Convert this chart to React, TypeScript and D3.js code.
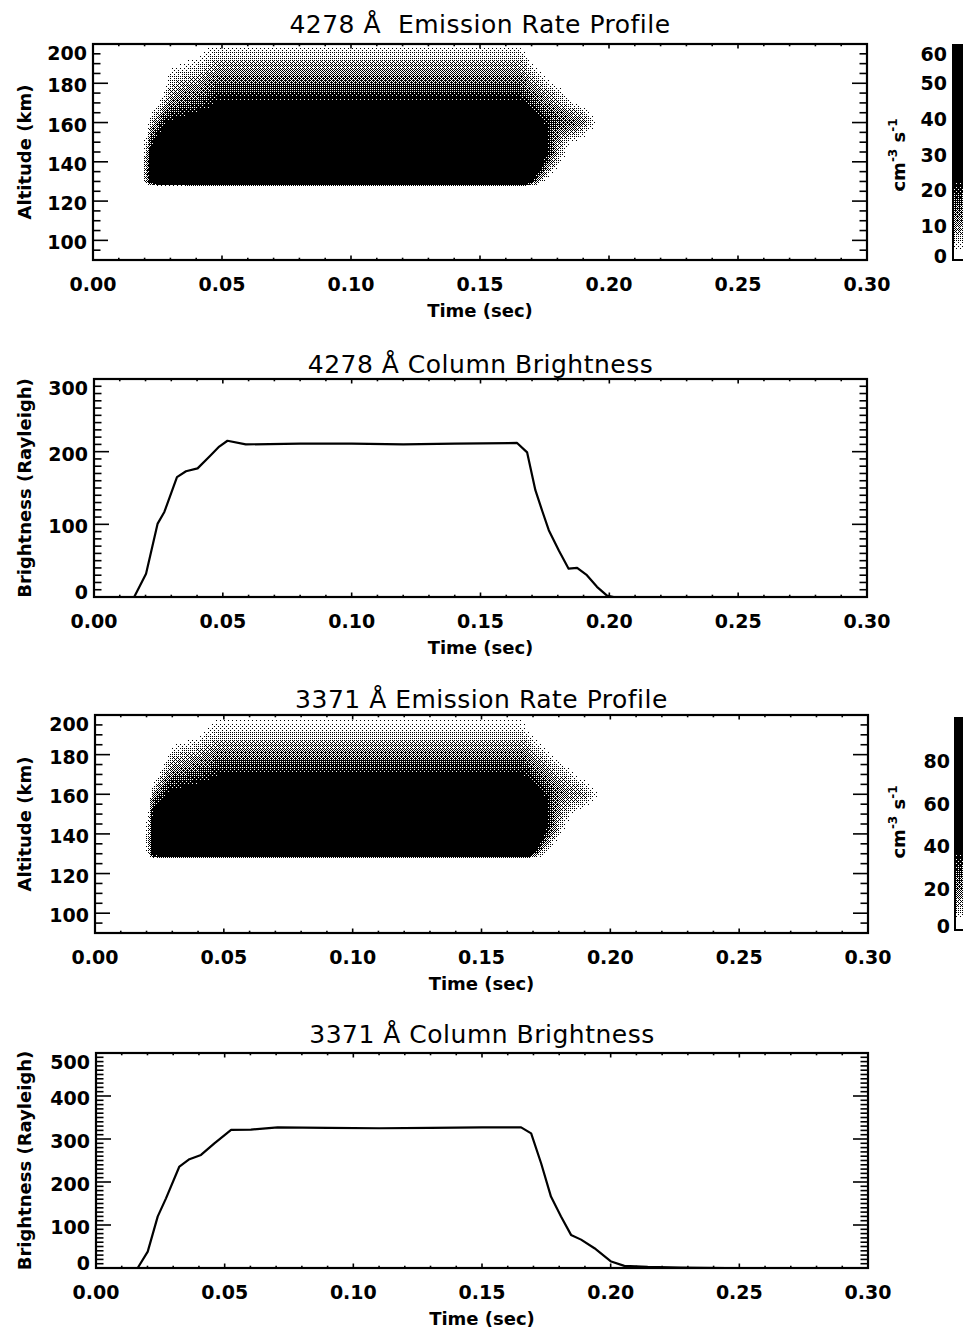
import React, { useEffect, useRef } from "react";
import * as d3 from "d3";

const WIDTH = 963;
const HEIGHT = 1333;
const FONT = "'DejaVu Sans', sans-serif";

// x axis (time, sec)
const timeTicks = [0, 0.05, 0.1, 0.15, 0.2, 0.25, 0.3];
const timeLabels = ["0.00", "0.05", "0.10", "0.15", "0.20", "0.25", "0.30"];

// emission rate grid: columns are times (sec), rows are altitudes (km)
const gridTime = [0.017, 0.0195, 0.021, 0.0225, 0.025, 0.0275, 0.03, 0.035, 0.04, 0.045, 0.048, 0.165, 0.1675, 0.17, 0.1725, 0.175, 0.1775, 0.18, 0.1825, 0.185, 0.1875, 0.19, 0.1925, 0.195, 0.1975, 0.2];
const gridAlt = [200, 195, 190, 185, 180, 175, 170, 165, 160, 155, 150, 145, 140, 135, 130, 127.5];

// 4278 A emission rate (cm^-3 s^-1)
const rate4278 = [
  [0,0,0,0,0,0,0,0,1,3,3,3,2,0,0,0,0,0,0,0,0,0,0,0,0,0],
  [0,0,0,0,0,0,0,1,2,4,5,5,3,1,0,0,0,0,0,0,0,0,0,0,0,0],
  [0,0,0,0,0,0,2,3,4,6,8,8,6,3,1,0,0,0,0,0,0,0,0,0,0,0],
  [0,0,0,0,0,0,4,5,6,9,11,11,9,6,4,2,1,0,0,0,0,0,0,0,0,0],
  [0,0,0,0,0,1,6,8,9,12,14,14,12,9,7,5,3,2,1,0,0,0,0,0,0,0],
  [0,0,0,0,0,3,8,11,12,15,18,18,16,13,11,9,7,5,3,1,0,0,0,0,0,0],
  [0,0,0,1,2,6,11,14,16,19,23,23,21,17,14,12,10,8,6,4,2,1,0,0,0,0],
  [0,0,0,3,6,12,16,19,21,24,28,28,27,23,19,16,14,12,11,9,8,6,3,1,0,0],
  [0,0,1,6,11,19,23,25,27,30,33,33,33,30,26,21,17,15,14,13,12,10,6,3,0,0],
  [0,0,3,11,18,26,29,31,33,36,39,39,39,35,29,23,16,12,10,8,7,5,2,1,0,0],
  [0,3,5,17,25,32,35,38,40,42,45,45,45,40,32,24,16,10,6,3,2,1,0,0,0,0],
  [0,3,8,24,32,39,42,44,46,48,51,51,51,44,34,24,15,8,4,1,0,0,0,0,0,0],
  [0,4,10,30,38,45,48,50,52,54,57,57,56,46,32,20,11,5,2,0,0,0,0,0,0,0],
  [0,4,11,33,42,48,51,53,55,57,59,59,57,40,22,10,4,1,0,0,0,0,0,0,0,0],
  [0,4,10,30,38,44,46,48,50,52,54,54,50,20,8,2,0,0,0,0,0,0,0,0,0,0],
  [0,0,0,0,0,0,0,0,0,0,0,0,0,0,0,0,0,0,0,0,0,0,0,0,0,0],
];

// 3371 A emission rate (cm^-3 s^-1)
const rate3371 = [
  [0,0,0,0,0,0,0,0,0,3,4,4,2,0,0,0,0,0,0,0,0,0,0,0,0,0],
  [0,0,0,0,0,0,0,0,1,5,6,6,4,1,0,0,0,0,0,0,0,0,0,0,0,0],
  [0,0,0,0,0,0,1,2,4,8,9,9,7,4,2,1,0,0,0,0,0,0,0,0,0,0],
  [0,0,0,0,0,0,4,6,8,12,14,14,12,8,5,3,1,0,0,0,0,0,0,0,0,0],
  [0,0,0,0,0,2,9,12,14,17,20,20,18,13,10,7,4,2,1,0,0,0,0,0,0,0],
  [0,0,0,0,1,7,14,17,20,23,27,27,25,20,16,13,10,7,4,2,0,0,0,0,0,0],
  [0,0,0,1,5,14,21,24,27,31,35,35,33,27,22,18,15,12,9,6,3,1,0,0,0,0],
  [0,0,0,5,13,24,30,33,36,40,43,43,42,36,30,25,20,16,14,12,10,7,4,2,0,0],
  [0,0,0,14,24,33,39,42,45,49,52,52,51,47,39,32,25,20,17,16,15,13,9,5,1,0],
  [0,0,3,26,37,44,48,51,54,58,61,61,60,55,45,36,25,17,13,11,9,7,4,2,0,0],
  [0,3,6,37,46,53,57,61,64,68,71,71,70,63,50,38,25,15,9,5,3,1,0,0,0,0],
  [0,5,10,44,54,62,66,70,73,77,80,80,79,69,52,37,23,12,6,2,0,0,0,0,0,0],
  [0,5,12,50,61,70,74,78,81,85,88,88,86,70,48,30,16,7,2,0,0,0,0,0,0,0],
  [0,5,12,54,66,75,79,83,86,89,92,92,88,60,34,15,6,1,0,0,0,0,0,0,0,0],
  [0,5,10,48,60,68,72,75,78,81,83,83,78,30,12,3,0,0,0,0,0,0,0,0,0,0],
  [0,0,0,0,0,0,0,0,0,0,0,0,0,0,0,0,0,0,0,0,0,0,0,0,0,0],
];

// column brightness (Rayleigh)
const brightTime4278 = [0, 0.0156, 0.0202, 0.0247, 0.0273, 0.0322, 0.0357, 0.0402, 0.0453, 0.0486, 0.0518, 0.0589, 0.08, 0.1, 0.12, 0.14, 0.1642, 0.1681, 0.1713, 0.1739, 0.1765, 0.1804, 0.1842, 0.1875, 0.1913, 0.1952, 0.1991, 0.2017, 0.25, 0.3];
const bright4278 = [0, 0, 32, 101, 117, 165, 173, 177, 195, 207, 215, 210, 211, 211, 210, 211, 212, 199, 147, 119, 92, 64, 39, 40, 30, 14, 2, 0, 0, 0];
const brightTime3371 = [0, 0.0162, 0.0201, 0.024, 0.0272, 0.0324, 0.0363, 0.0408, 0.046, 0.0525, 0.0602, 0.0706, 0.09, 0.11, 0.13, 0.15, 0.1652, 0.1691, 0.173, 0.1768, 0.1807, 0.1846, 0.1885, 0.1937, 0.2002, 0.2053, 0.2144, 0.227, 0.245, 0.3];
const bright3371 = [0, 0, 38, 120, 162, 236, 253, 263, 290, 321, 322, 327, 326, 325, 326, 327, 327, 313, 243, 166, 120, 77, 66, 46, 15, 5, 2.5, 1, 0, 0];

const altTicks = [100, 120, 140, 160, 180, 200];
const bright4278Ticks = [0, 100, 200, 300];
const bright3371Ticks = [0, 100, 200, 300, 400, 500];
const cb4278Ticks = [0, 10, 20, 30, 40, 50, 60];
const cb3371Ticks = [0, 20, 40, 60, 80];

const BAYER = [0, 8, 2, 10, 12, 4, 14, 6, 3, 11, 1, 9, 15, 7, 13, 5];

function sampleGrid(grid: number[][], t: number, a: number) {
  const n = gridTime.length;
  if (t <= gridTime[0] || t >= gridTime[n - 1]) return 0;
  if (a > gridAlt[0] || a <= gridAlt[gridAlt.length - 1]) return 0;
  const i = Math.min(d3.bisectRight(gridTime, t) - 1, n - 2);
  const ft = (t - gridTime[i]) / (gridTime[i + 1] - gridTime[i]);
  let j = 0;
  while (j < gridAlt.length - 2 && gridAlt[j + 1] >= a) j++;
  const fa = (gridAlt[j] - a) / (gridAlt[j] - gridAlt[j + 1]);
  const top = grid[j][i] * (1 - ft) + grid[j][i + 1] * ft;
  const bot = grid[j + 1][i] * (1 - ft) + grid[j + 1][i + 1] * ft;
  return top * (1 - fa) + bot * fa;
}

// ordered dither, black dots on transparent
function ditherURL(w: number, h: number, ox: number, oy: number, shade: (i: number, j: number) => number) {
  const canvas = document.createElement("canvas");
  canvas.width = w;
  canvas.height = h;
  const ctx = canvas.getContext("2d")!;
  const img = ctx.createImageData(w, h);
  for (let j = 0; j < h; j++) {
    for (let i = 0; i < w; i++) {
      const d = shade(i, j);
      const on = d > (BAYER[((oy + j) & 3) * 4 + ((ox + i) & 3)] + 0.5) / 16;
      const k = (j * w + i) * 4;
      img.data[k] = img.data[k + 1] = img.data[k + 2] = 0;
      img.data[k + 3] = on ? 255 : 0;
    }
  }
  ctx.putImageData(img, 0, 0);
  return canvas.toDataURL();
}

type Box = { left: number; right: number; top: number; bottom: number };

function drawAxes(g: any, box: Box, x: any, y: any, yMajor: number[], yMinor: number[], yLabelVals: number[]) {
  const yLen = 15, yMin = 7.5, xLen = 4.5, xMin = 2.3;
  const ticks = g.append("g").attr("stroke", "#000").attr("stroke-width", 1.6);
  d3.range(0, 0.3001, 0.01).forEach((t) => {
    const major = timeTicks.some((m) => Math.abs(m - t) < 1e-6);
    const l = major ? xLen : xMin;
    ticks.append("line").attr("x1", x(t)).attr("x2", x(t)).attr("y1", box.bottom).attr("y2", box.bottom - l);
    ticks.append("line").attr("x1", x(t)).attr("x2", x(t)).attr("y1", box.top).attr("y2", box.top + l);
  });
  yMinor.forEach((v) => {
    const major = yMajor.includes(v);
    const l = major ? yLen : yMin;
    ticks.append("line").attr("x1", box.left).attr("x2", box.left + l).attr("y1", y(v)).attr("y2", y(v));
    ticks.append("line").attr("x1", box.right).attr("x2", box.right - l).attr("y1", y(v)).attr("y2", y(v));
  });
  g.append("rect")
    .attr("x", box.left).attr("y", box.top)
    .attr("width", box.right - box.left).attr("height", box.bottom - box.top)
    .attr("fill", "none").attr("stroke", "#000").attr("stroke-width", 2.2);

  g.append("g").selectAll("text").data(timeTicks).join("text")
    .attr("x", (d: number) => x(d)).attr("y", box.bottom + 24)
    .attr("text-anchor", "middle").attr("dominant-baseline", "central")
    .attr("font-size", 19).attr("font-weight", "bold")
    .text((d: number, i: number) => timeLabels[i]);

  // IDL keeps the end labels inside the axis range
  g.append("g").selectAll("text").data(yLabelVals).join("text")
    .attr("x", box.left - 6)
    .attr("y", (d: number) => Math.max(box.top + 9, Math.min(box.bottom - 5, y(d) + 2)))
    .attr("text-anchor", "end").attr("dominant-baseline", "central")
    .attr("font-size", 19).attr("font-weight", "bold")
    .text((d: number) => String(d));

  g.append("text")
    .attr("x", (box.left + box.right) / 2).attr("y", box.bottom + 50)
    .attr("text-anchor", "middle").attr("dominant-baseline", "central")
    .attr("font-size", 18).attr("font-weight", "bold")
    .text("Time (sec)");
}

const App = () => {
  const ref = useRef<SVGSVGElement>(null);

  useEffect(() => {
    const svg = d3.select(ref.current);
    svg.selectAll("*").remove();
    svg.style("font-family", FONT);

    const emissionPanels = [
      { box: { left: 93, right: 867, top: 44, bottom: 260 }, grid: rate4278, vmax: 60, title: "4278 Å  Emission Rate Profile", titleY: 33,
        cb: { x: 953, top: 45, bottom: 260, max: 60, ticks: cb4278Ticks, labelX: 947, unitY: 155 } },
      { box: { left: 95, right: 868, top: 715, bottom: 933 }, grid: rate3371, vmax: 99, title: "3371 Å Emission Rate Profile", titleY: 708,
        cb: { x: 955, top: 718, bottom: 930, max: 99, ticks: cb3371Ticks, labelX: 950, unitY: 822 } },
    ];

    emissionPanels.forEach((p) => {
      const { box } = p;
      const g = svg.append("g");
      const x = d3.scaleLinear().domain([0, 0.3]).range([box.left, box.right]);
      const y = d3.scaleLinear().domain([90, 200]).range([box.bottom, box.top]);
      const shade = d3.scalePow().exponent(0.6).domain([0.04 * p.vmax, 0.37 * p.vmax]).range([0, 1]).clamp(true);
      const w = box.right - box.left, h = box.bottom - box.top;
      const url = ditherURL(w, h, box.left, box.top, (i, j) =>
        shade(sampleGrid(p.grid, x.invert(box.left + i + 0.5), y.invert(box.top + j + 0.5)))
      );
      g.append("image").attr("href", url).attr("x", box.left).attr("y", box.top)
        .attr("width", w).attr("height", h).style("image-rendering", "pixelated");

      drawAxes(g, box, x, y, altTicks, d3.range(90, 201, 5), altTicks);

      g.append("text").attr("x", (box.left + box.right) / 2).attr("y", p.titleY)
        .attr("text-anchor", "middle").attr("font-size", 25).attr("letter-spacing", 0.5)
        .style("white-space", "pre").text(p.title);

      g.append("text")
        .attr("transform", `translate(24,${(box.top + box.bottom) / 2}) rotate(-90)`)
        .attr("text-anchor", "middle").attr("dominant-baseline", "central")
        .attr("font-size", 18).attr("font-weight", "bold")
        .text("Altitude (km)");

      // colour bar
      const cb = p.cb;
      const cy = d3.scaleLinear().domain([0, cb.max]).range([cb.bottom, cb.top]);
      const cbw = WIDTH - cb.x, cbh = cb.bottom - cb.top;
      const cbUrl = ditherURL(cbw, cbh, cb.x, cb.top, (i, j) => shade(cy.invert(cb.top + j + 0.5)));
      g.append("image").attr("href", cbUrl).attr("x", cb.x).attr("y", cb.top)
        .attr("width", cbw).attr("height", cbh).style("image-rendering", "pixelated");
      g.append("rect").attr("x", cb.x).attr("y", cb.top).attr("width", 40).attr("height", cbh)
        .attr("fill", "none").attr("stroke", "#000").attr("stroke-width", 2);
      g.append("g").selectAll("text").data(cb.ticks).join("text")
        .attr("x", cb.labelX)
        .attr("y", (d: number) => Math.max(cb.top + 9, Math.min(cb.bottom - 4, cy(d) + 2)))
        .attr("text-anchor", "end").attr("dominant-baseline", "central")
        .attr("font-size", 19).attr("font-weight", "bold")
        .text((d: number) => String(d));
      const unit = g.append("text")
        .attr("transform", `translate(905,${cb.unitY}) rotate(-90)`)
        .attr("text-anchor", "middle")
        .attr("font-size", 18).attr("font-weight", "bold");
      unit.append("tspan").text("cm");
      unit.append("tspan").attr("dy", -8).attr("font-size", 12).text("-3");
      unit.append("tspan").attr("dy", 8).text(" s");
      unit.append("tspan").attr("dy", -8).attr("font-size", 12).text("-1");
    });

    const brightPanels = [
      { box: { left: 94, right: 867, top: 379, bottom: 597 }, times: brightTime4278, values: bright4278, ymax: 300,
        ticks: bright4278Ticks, title: "4278 Å Column Brightness", titleY: 373 },
      { box: { left: 96, right: 868, top: 1053, bottom: 1268 }, times: brightTime3371, values: bright3371, ymax: 500,
        ticks: bright3371Ticks, title: "3371 Å Column Brightness", titleY: 1043 },
    ];

    brightPanels.forEach((p) => {
      const { box } = p;
      const g = svg.append("g");
      const x = d3.scaleLinear().domain([0, 0.3]).range([box.left, box.right]);
      const y = d3.scaleLinear().domain([0, p.ymax]).range([box.bottom, box.top]);

      const line = d3.line<number>()
        .x((d, i) => x(p.times[i]))
        .y((d) => y(d));
      g.append("path").attr("d", line(p.values))
        .attr("fill", "none").attr("stroke", "#000").attr("stroke-width", 2.2)
        .attr("stroke-linejoin", "round");

      drawAxes(g, box, x, y, p.ticks, d3.range(0, p.ymax + 1, 10), p.ticks);

      g.append("text").attr("x", (box.left + box.right) / 2).attr("y", p.titleY)
        .attr("text-anchor", "middle").attr("font-size", 25).attr("letter-spacing", 0.5)
        .style("white-space", "pre").text(p.title);

      g.append("text")
        .attr("transform", `translate(24,${(box.top + box.bottom) / 2}) rotate(-90)`)
        .attr("text-anchor", "middle").attr("dominant-baseline", "central")
        .attr("font-size", 18).attr("font-weight", "bold")
        .text("Brightness (Rayleigh)");
    });
  }, []);

  return (
    <svg
      ref={ref}
      width={WIDTH}
      height={HEIGHT}
      style={{ position: "absolute", left: 0, top: 0, background: "#fff" }}
    />
  );
};

export default App;
